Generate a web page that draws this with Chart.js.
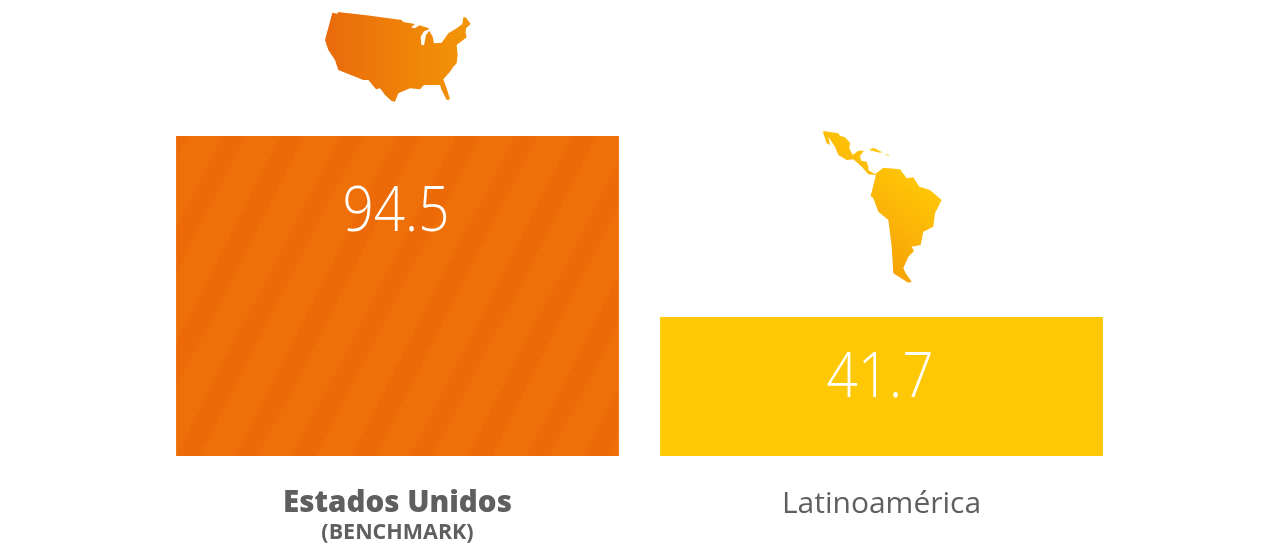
<!DOCTYPE html>
<html>
<head>
<meta charset="utf-8">
<title>Estados Unidos vs Latinoamérica</title>
<script src="https://cdn.jsdelivr.net/npm/chart.js"></script>
<style>
  html, body { margin: 0; padding: 0; background: #fff; overflow: hidden; }
  #wrap { position: relative; width: 1280px; height: 554px; }
  #wrap svg { position: absolute; }
</style>
</head>
<body>
<div id="wrap">
  <canvas id="miGrafica" width="1280" height="554"></canvas>
  <!-- mapas decorativos -->
  <svg style="left:300px;top:0" width="190" height="110" viewBox="0 0 570 330">
    <defs>
      <linearGradient id="gradUsa" x1="0" y1="0" x2="1" y2="0">
        <stop offset="0" stop-color="#E96A0C"/>
        <stop offset="1" stop-color="#F39606"/>
      </linearGradient>
    </defs>
    <path fill="url(#gradUsa)" d="M97,38 L113,41 L113,36 L200,46 L305,60 L310,66 L345,72 L333,82 L345,85 L358,76 L385,84 L387,88 L372,94 L362,110 L364,134 L372,136 L378,105 L388,92 L398,110 L402,130 L425,128 L445,100 L470,85 L487,72 L490,52 L497,52 L512,72 L498,85 L497,100 L500,112 L470,135 L473,165 L470,190 L460,200 L450,215 L430,238 L440,265 L450,298 L440,300 L425,270 L420,255 L372,255 L360,268 L330,265 L295,280 L285,305 L275,303 L255,285 L240,265 L228,268 L205,240 L190,240 L115,210 L105,180 L85,150 L75,120 Z"/>
  </svg>
  <svg style="left:800px;top:120px" width="160" height="170" viewBox="0 0 480 510">
    <defs>
      <linearGradient id="gradLat" x1="0.85" y1="0.35" x2="0.45" y2="1">
        <stop offset="0" stop-color="#FFC606"/>
        <stop offset="1" stop-color="#F59C08"/>
      </linearGradient>
    </defs>
    <path fill="url(#gradLat)" d="M70,33 L115,40 L120,47 L135,52 L150,68 L148,85 L158,105 L175,92 L192,92 L180,108 L183,122 L200,125 L205,140 L205,150 L225,163 L250,143 L300,148 L320,175 L340,172 L358,200 L390,210 L425,240 L405,280 L400,320 L370,335 L362,375 L335,380 L342,393 L325,410 L310,445 L317,460 L335,485 L325,488 L280,460 L275,380 L265,300 L235,275 L220,235 L212,228 L228,165 L205,163 L185,140 L160,118 L140,120 L115,105 L105,80 L85,50 L90,75 L80,70 L70,40 Z"/>
    <path fill="#FFC606" d="M207,90 L220,83 L247,97 L240,98 Z M252,103 L268,104 L265,107 Z"/>
  </svg>
</div>

<script>
const categorias = ['Estados Unidos', 'Latinoamérica'];
const valores = [94.5, 41.7];
const etiquetas = ['94.5', '41.7'];
const notaBenchmark = '(BENCHMARK)';

// franjas diagonales de la barra naranja
function crearFranjas() {
  const tile = document.createElement('canvas');
  tile.width = 52;
  tile.height = 52;
  const c = tile.getContext('2d');
  c.fillStyle = '#EF7008';
  c.fillRect(0, 0, 52, 52);
  c.fillStyle = '#EC6A07';
  c.fillRect(0, 0, 21, 52);
  const patron = c.createPattern(tile, 'repeat');
  patron.setTransform(new DOMMatrix().rotate(27));
  return patron;
}

const textosPlugin = {
  id: 'textos',
  afterDatasetsDraw(chart) {
    const ctx = chart.ctx;
    const meta = chart.getDatasetMeta(0);
    ctx.save();
    ctx.textAlign = 'center';
    ctx.textBaseline = 'middle';
    ctx.fillStyle = '#fff';
    ctx.font = '300 63px "Open Sans"';
    meta.data.forEach(function (barra, i) {
      // el numero va algo mas estrecho que la fuente
      ctx.save();
      ctx.translate(barra.x - 1.5, barra.y + (i === 0 ? 77 : 61.5));
      ctx.scale(0.87, 1);
      ctx.fillText(etiquetas[i], 0, 0);
      ctx.restore();
    });
    ctx.fillStyle = '#5f5f5f';
    ctx.font = 'bold 21.5px "Open Sans"';
    ctx.fillText(notaBenchmark, meta.data[0].x, 533);
    ctx.restore();
  }
};

const ctx1 = document.getElementById('miGrafica').getContext('2d');
const miGrafica = new Chart(ctx1, {
  type: 'bar',
  data: {
    labels: categorias,
    datasets: [{
      data: valores,
      backgroundColor: [crearFranjas(), '#FFC805'],
      borderWidth: 0,
      barPercentage: 0.915,
      categoryPercentage: 1
    }]
  },
  options: {
    responsive: false,
    animation: false,
    layout: { padding: { left: 155.5, right: 156.5, top: 0, bottom: 0 } },
    plugins: { legend: { display: false }, tooltip: { enabled: false } },
    scales: {
      x: {
        grid: { display: false },
        border: { display: false },
        afterFit(scale) { scale.height = 98; },
        ticks: {
          padding: 22,
          maxRotation: 0,
          color: '#5f5f5f',
          font(c) {
            return { family: '"Open Sans"', size: c.index === 0 ? 29.5 : 30, weight: c.index === 0 ? 800 : 'normal' };
          }
        }
      },
      y: { display: false, min: 1.17, max: 134.2 }
    }
  },
  plugins: [textosPlugin]
});
</script>
</body>
</html>
